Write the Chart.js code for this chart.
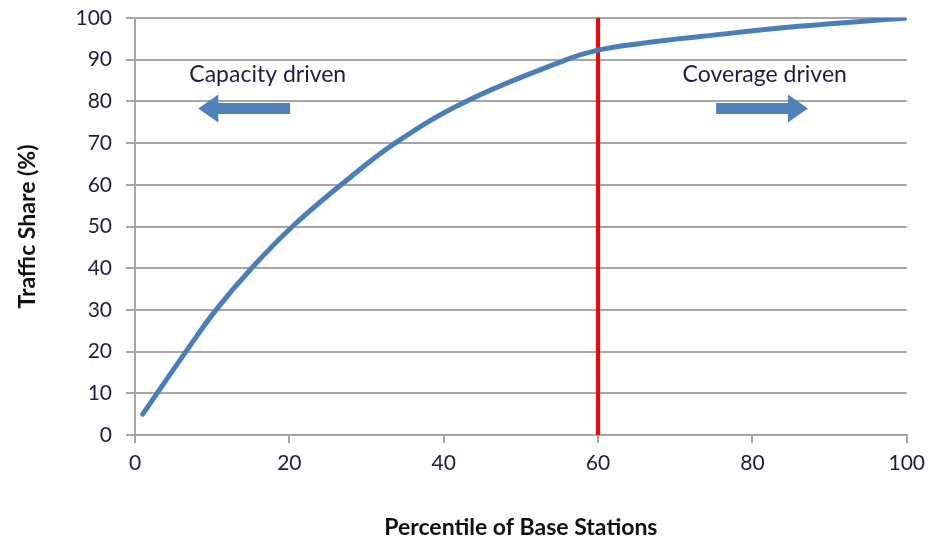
<!DOCTYPE html>
<html>
<head>
<meta charset="utf-8">
<script src="https://cdn.jsdelivr.net/npm/chart.js@4/dist/chart.umd.min.js"></script>
<style>
  html, body { margin: 0; padding: 0; background: #fff; }
  #wrap { width: 933px; height: 541px; }
</style>
</head>
<body>
<div id="wrap"><canvas id="chart" width="933" height="541"></canvas></div>
<script>
// curve
const percentile = [1, 6.6, 10.5, 15.1, 20.4, 26.7, 33.7, 42.9, 55.9, 60, 66, 73, 86, 100];
const trafficShare = [5, 20, 30, 40, 50, 60, 70, 80, 90, 92.3, 94, 95.5, 98, 100];
const thresholdX = [60, 60];
const thresholdY = [0, 100];
const tickValues = [0, 20, 40, 60, 80, 100];
const noteLabels = ["Capacity driven", "Coverage driven"];

const gridGray = "#a6a6a6";
const textColor = "#1f1f3a";
const fontFamily = "Lato, 'Open Sans', sans-serif";

// text labels and block arrows in the plot
const notesPlugin = {
  id: "notes",
  afterDatasetsDraw(chart) {
    const ctx = chart.ctx;
    const xs = chart.scales.x;
    const ys = chart.scales.y;
    ctx.save();
    ctx.fillStyle = textColor;
    ctx.font = "23px " + fontFamily;
    ctx.textAlign = "center";
    ctx.textBaseline = "middle";
    ctx.fillText(noteLabels[0], xs.getPixelForValue(17.2), ys.getPixelForValue(86.5));
    ctx.fillText(noteLabels[1], xs.getPixelForValue(81.6), ys.getPixelForValue(86.5));

    function arrow(x0, x1, yv, dir) {
      const y = ys.getPixelForValue(yv);
      const a = xs.getPixelForValue(x0);
      const b = xs.getPixelForValue(x1);
      const half = 5.5, headHalf = 14, headLen = 20;
      ctx.fillStyle = "#4f81bd";
      ctx.beginPath();
      if (dir > 0) {
        ctx.moveTo(a, y - half);
        ctx.lineTo(b - headLen, y - half);
        ctx.lineTo(b - headLen, y - headHalf);
        ctx.lineTo(b, y);
        ctx.lineTo(b - headLen, y + headHalf);
        ctx.lineTo(b - headLen, y + half);
        ctx.lineTo(a, y + half);
      } else {
        ctx.moveTo(b, y - half);
        ctx.lineTo(a + headLen, y - half);
        ctx.lineTo(a + headLen, y - headHalf);
        ctx.lineTo(a, y);
        ctx.lineTo(a + headLen, y + headHalf);
        ctx.lineTo(a + headLen, y + half);
        ctx.lineTo(b, y + half);
      }
      ctx.closePath();
      ctx.fill();
    }
    arrow(8.2, 20.1, 78.3, -1);
    arrow(75.3, 87.2, 78.3, 1);
    ctx.restore();
  }
};

const curve = percentile.map((x, i) => ({ x: x, y: trafficShare[i] }));
const redLine = thresholdX.map((x, i) => ({ x: x, y: thresholdY[i] }));

new Chart(document.getElementById("chart").getContext("2d"), {
  type: "scatter",
  data: {
    datasets: [
      {
        label: "Traffic share",
        data: curve,
        showLine: true,
        borderColor: "#4a7ebb",
        borderWidth: 5,
        pointRadius: 0,
        tension: 0.4,
        borderCapStyle: "round",
      },
      {
        label: "Threshold",
        data: redLine,
        showLine: true,
        borderColor: "#ff0000",
        borderWidth: 4,
        pointRadius: 0,
      },
    ],
  },
  options: {
    responsive: false,
    animation: false,
    layout: { padding: { left: 14, right: 26, top: 18, bottom: 0 } },
    plugins: {
      legend: { display: false },
      tooltip: { enabled: false },
    },
    scales: {
      x: {
        type: "linear",
        min: 0,
        max: 100,
        afterBuildTicks(scale) {
          scale.ticks = tickValues.map((v) => ({ value: v }));
        },
        afterFit(scale) {
          scale.height = 106;
        },
        grid: {
          drawOnChartArea: false,
          drawTicks: true,
          tickLength: 8,
          color: gridGray,
          lineWidth: 2,
        },
        border: { color: gridGray, width: 2 },
        ticks: {
          color: textColor,
          font: { family: fontFamily, size: 21 },
          padding: 8,
          maxRotation: 0,
        },
        title: {
          display: true,
          text: "Percentile of Base Stations",
          color: "#111",
          font: { family: fontFamily, size: 23, weight: "bold" },
          padding: { top: 12, bottom: 0 },
        },
      },
      y: {
        type: "linear",
        min: 0,
        max: 100,
        afterBuildTicks(scale) {
          const t = [];
          for (let v = 0; v <= 100; v += 10) t.push({ value: v });
          scale.ticks = t;
        },
        afterFit(scale) {
          scale.width = 121;
          scale.paddingTop = 0;
          scale.paddingBottom = 0;
        },
        grid: {
          color: gridGray,
          lineWidth: 2,
          drawTicks: true,
          tickLength: 9,
        },
        border: { color: gridGray, width: 2 },
        ticks: {
          color: textColor,
          font: { family: fontFamily, size: 21 },
          padding: 14,
        },
        title: {
          display: true,
          text: "Traffic Share (%)",
          color: "#111",
          font: { family: fontFamily, size: 23, weight: "bold" },
          padding: { top: 0, bottom: 4 },
        },
      },
    },
  },
  plugins: [notesPlugin],
});
</script>
</body>
</html>
